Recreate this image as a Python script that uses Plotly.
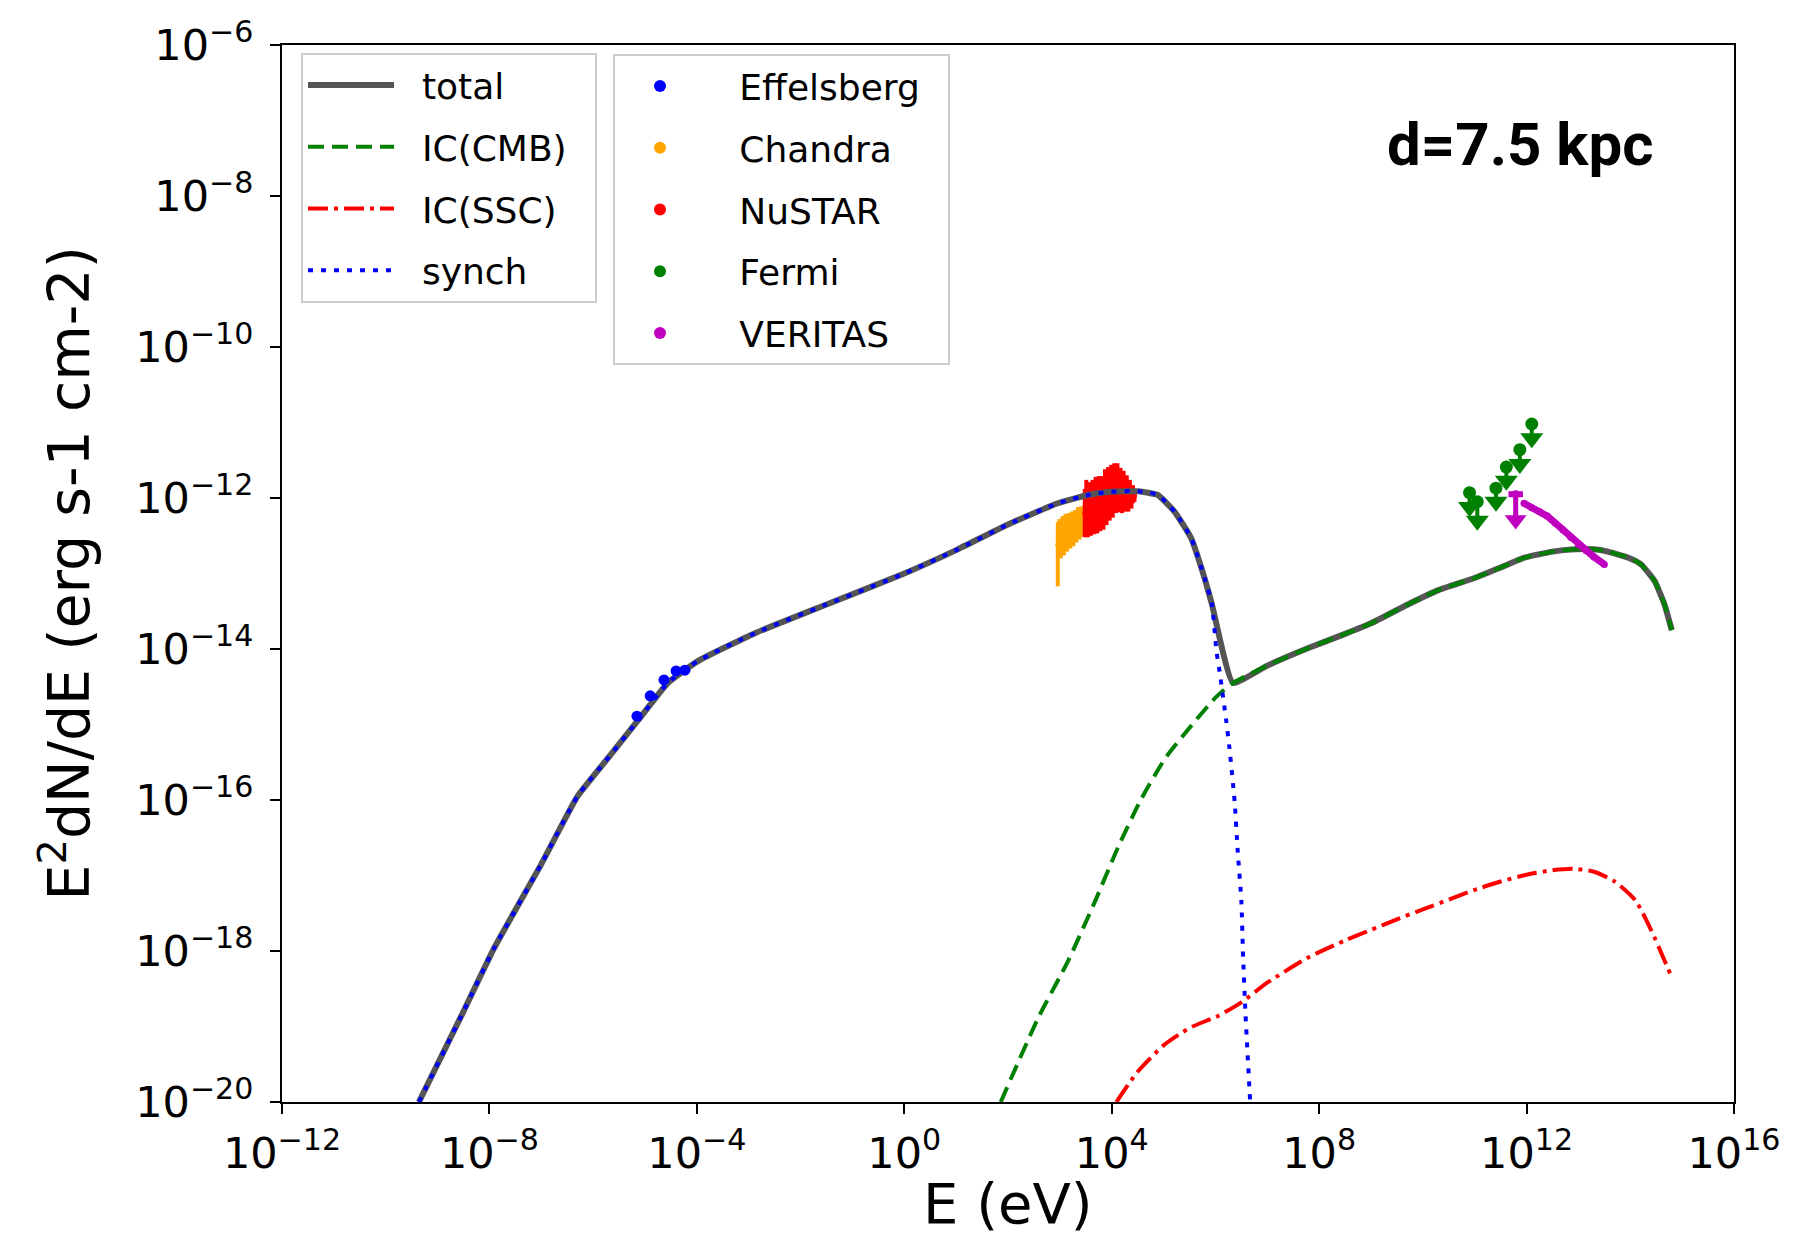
import numpy as np
import plotly.graph_objects as go

# ---------------- data (log10 E [eV], log10 E^2 dN/dE [erg s-1 cm-2]) ----------------
total_logE = [-9.36, -8.5, -7.9, -7.0, -6.3, -5.66, -5.14, -4.56, -3.98, -2.88, -1.5, 0.0, 1.03,
              2.0, 2.96, 3.54, 3.93, 4.51, 4.89, 5.21, 5.53, 5.79, 5.93, 6.34, 7.0, 7.78, 8.5,
              9.0, 9.71, 10.3, 11.0, 11.5, 11.96, 12.5, 12.93, 13.3, 13.57, 14.0, 14.21, 14.47,
              14.66, 14.8]
total_logF = [-20.0, -18.8, -17.95, -16.85, -15.95, -15.40, -14.95, -14.45, -14.16, -13.79, -13.41,
              -13.0, -12.68, -12.35, -12.07, -11.96, -11.92, -11.91, -11.96, -12.18, -12.53, -13.06,
              -13.40, -14.45, -14.22, -13.99, -13.80, -13.66, -13.41, -13.22, -13.06, -12.92, -12.79,
              -12.71, -12.68, -12.68, -12.71, -12.80, -12.88, -13.10, -13.41, -13.75]

synch_logE = [-9.36, -8.5, -7.9, -7.0, -6.3, -5.66, -5.14, -4.56, -3.98, -2.88, -1.5, 0.0, 1.03,
              2.0, 2.96, 3.54, 3.93, 4.51, 4.89, 5.21, 5.53, 5.79, 5.93, 6.02, 6.07, 6.21, 6.27,
              6.37, 6.43, 6.50, 6.53, 6.58, 6.67]
synch_logF = [-20.0, -18.8, -17.95, -16.85, -15.95, -15.40, -14.95, -14.45, -14.16, -13.79, -13.41,
              -13.0, -12.68, -12.35, -12.07, -11.96, -11.92, -11.91, -11.96, -12.18, -12.53, -13.06,
              -13.40, -14.03, -14.25, -14.96, -15.31, -16.02, -16.68, -17.34, -18.0, -18.84, -20.0]

ic_cmb_logE = [1.86, 2.58, 3.16, 3.68, 4.12, 4.56, 5.03, 5.47, 6.02, 6.34, 7.0, 7.78, 8.5, 9.0,
               9.71, 10.3, 11.0, 11.5, 11.96, 12.5, 12.93, 13.3, 13.57, 14.0, 14.21, 14.47, 14.66, 14.8]
ic_cmb_logF = [-20.0, -18.89, -18.13, -17.34, -16.63, -16.0, -15.45, -15.07, -14.63, -14.45, -14.22,
               -13.99, -13.80, -13.66, -13.41, -13.22, -13.06, -12.92, -12.79, -12.71, -12.68, -12.68,
               -12.71, -12.80, -12.88, -13.10, -13.41, -13.75]

ic_ssc_logE = [4.09, 4.5, 5.0, 5.5, 6.05, 6.5, 7.0, 7.78, 8.5, 9.0, 9.5, 10.0, 10.5, 11.0, 11.5,
               12.0, 12.5, 12.9, 13.3, 13.7, 14.1, 14.4, 14.8]
ic_ssc_logF = [-20.0, -19.6, -19.25, -19.02, -18.86, -18.68, -18.42, -18.09, -17.86, -17.72, -17.58,
               -17.45, -17.32, -17.19, -17.08, -16.99, -16.93, -16.91, -16.95, -17.08, -17.33, -17.72,
               -18.35]

effelsberg_logE = [-5.155, -4.90, -4.634, -4.40, -4.23]
effelsberg_logF = [-14.89, -14.62, -14.41, -14.29, -14.28]

chandra_logE = [2.96, 2.99, 3.02, 3.05, 3.08, 3.11, 3.14, 3.17, 3.20, 3.23, 3.26, 3.29, 3.32, 3.35,
                3.38, 3.41, 3.44, 3.47, 3.50]
chandra_logF = [-12.62, -12.50, -12.55, -12.46, -12.52, -12.42, -12.48, -12.40, -12.45, -12.37,
                -12.42, -12.34, -12.38, -12.30, -12.35, -12.28, -12.31, -12.25, -12.27]
chandra_err_lo = [0.55, 0.28, 0.25, 0.27, 0.24, 0.26, 0.23, 0.25, 0.22, 0.24, 0.22, 0.23, 0.21,
                  0.22, 0.20, 0.21, 0.20, 0.19, 0.20]
chandra_err_hi = [0.30, 0.22, 0.20, 0.22, 0.20, 0.21, 0.19, 0.20, 0.18, 0.19, 0.18, 0.18, 0.17,
                  0.18, 0.16, 0.17, 0.16, 0.15, 0.16]

nustar_logE = [3.48, 3.51, 3.54, 3.57, 3.60, 3.63, 3.66, 3.69, 3.72, 3.75, 3.78, 3.81, 3.84, 3.87,
               3.90, 3.93, 3.96, 3.99, 4.02, 4.05, 4.08, 4.11, 4.14, 4.17, 4.20, 4.23, 4.26, 4.29,
               4.32, 4.35, 4.38, 4.41, 4.44]
nustar_logF = [-12.20, -12.12, -12.22, -12.14, -12.20, -12.10, -12.18, -12.08, -12.16, -12.06,
               -12.14, -12.04, -12.10, -11.98, -12.06, -11.94, -12.00, -11.90, -11.96, -11.86,
               -11.92, -11.84, -11.92, -11.88, -11.95, -11.90, -11.96, -11.92, -11.98, -11.94,
               -11.99, -11.95, -11.97]
nustar_err = [0.32, 0.36, 0.30, 0.35, 0.30, 0.34, 0.30, 0.36, 0.31, 0.35, 0.30, 0.33, 0.32, 0.36,
              0.30, 0.35, 0.30, 0.34, 0.30, 0.32, 0.28, 0.30, 0.27, 0.28, 0.25, 0.26, 0.22, 0.22,
              0.20, 0.18, 0.15, 0.12, 0.08]

fermi_logE = [10.90, 11.05, 11.41, 11.61, 11.87, 12.10]
fermi_logF = [-11.93, -12.05, -11.87, -11.59, -11.36, -11.02]
fermi_ul_dex = [0.19, 0.25, 0.18, 0.18, 0.19, 0.19]

veritas_ul_logE = [11.79]
veritas_ul_logF = [-11.95]
veritas_ul_dex = [0.34]
veritas_ul_xdex = [0.14]
veritas_logE = [11.95, 12.1, 12.25, 12.4, 12.55, 12.7, 12.85, 13.0, 13.15, 13.3, 13.5]
veritas_logF = [-12.07, -12.13, -12.18, -12.24, -12.33, -12.42, -12.52, -12.62, -12.70, -12.78, -12.88]

x_tick_exps = [-12, -8, -4, 0, 4, 8, 12, 16]
y_tick_exps = [-20, -18, -16, -14, -12, -10, -8, -6]


def p(a):
    return 10.0 ** np.asarray(a, dtype=float)


def tick_text(exps):
    return [f"10<sup>{'\u2212' if e < 0 else ''}{abs(e)}</sup>" for e in exps]


C_TOTAL = "#555555"
C_GREEN = "#008000"
C_RED = "#FF0000"
C_BLUE = "#0000FF"
C_ORANGE = "#FFA500"
C_MAG = "#BF00BF"
FONT = "DejaVu Sans"
NB = "\u00a0"

fig = go.Figure()

# ---- data drawn below the model curves ----
cF = p(chandra_logF)
fig.add_trace(go.Scatter(
    x=p(chandra_logE), y=cF, mode="markers", name=NB * 3 + "Chandra", legend="legend2", legendrank=2,
    marker=dict(color=C_ORANGE, size=5),
    error_y=dict(type="data", symmetric=False,
                 array=p(np.add(chandra_logF, chandra_err_hi)) - cF,
                 arrayminus=cF - p(np.subtract(chandra_logF, chandra_err_lo)),
                 color=C_ORANGE, thickness=4, width=0)))

nF = p(nustar_logF)
fig.add_trace(go.Scatter(
    x=p(nustar_logE), y=nF, mode="markers", name=NB * 3 + "NuSTAR", legend="legend2", legendrank=3,
    marker=dict(color=C_RED, size=5),
    error_y=dict(type="data", symmetric=False,
                 array=p(np.add(nustar_logF, nustar_err)) - nF,
                 arrayminus=nF - p(np.subtract(nustar_logF, nustar_err)),
                 color=C_RED, thickness=4, width=0)))

# ---- model curves ----
SM = 0.6
fig.add_trace(go.Scatter(x=p(total_logE), y=p(total_logF), mode="lines", name=NB * 2 + "total",
                         legendrank=1,
                         line=dict(color=C_TOTAL, width=6, shape="spline", smoothing=0.4)))
fig.add_trace(go.Scatter(x=p(ic_cmb_logE), y=p(ic_cmb_logF), mode="lines",
                         name=NB * 2 + "IC(CMB)" + NB * 2, legendrank=2,
                         line=dict(color=C_GREEN, width=4, dash="16px,8px", shape="spline",
                                   smoothing=SM)))
fig.add_trace(go.Scatter(x=p(ic_ssc_logE), y=p(ic_ssc_logF), mode="lines", name=NB * 2 + "IC(SSC)",
                         legendrank=3,
                         line=dict(color=C_RED, width=4, dash="20px,6px,4px,6px", shape="spline",
                                   smoothing=SM)))
fig.add_trace(go.Scatter(x=p(synch_logE), y=p(synch_logF), mode="lines", name=NB * 2 + "synch",
                         legendrank=4,
                         line=dict(color=C_BLUE, width=4, dash="5px,8px", shape="spline",
                                   smoothing=SM)))

# ---- data drawn above ----
fig.add_trace(go.Scatter(x=p(effelsberg_logE), y=p(effelsberg_logF), mode="markers",
                         name=NB * 3 + "Effelsberg" + NB * 2, legend="legend2", legendrank=1,
                         marker=dict(color=C_BLUE, size=11)))

fF = p(fermi_logF)
fF_lo = p(np.subtract(fermi_logF, fermi_ul_dex))
fig.add_trace(go.Scatter(
    x=p(fermi_logE), y=fF, mode="markers", name=NB * 3 + "Fermi", legend="legend2", legendrank=4,
    marker=dict(color=C_GREEN, size=13),
    error_y=dict(type="data", symmetric=False, array=np.zeros(len(fermi_logE)),
                 arrayminus=fF - fF_lo, color=C_GREEN, thickness=4, width=0)))
fig.add_trace(go.Scatter(x=p(fermi_logE), y=fF_lo, mode="markers", showlegend=False,
                         hoverinfo="skip",
                         marker=dict(color=C_GREEN, size=20, symbol="triangle-down")))

fig.add_trace(go.Scatter(x=p(veritas_logE), y=p(veritas_logF), mode="lines+markers",
                         showlegend=False, line=dict(color=C_MAG, width=7),
                         marker=dict(color=C_MAG, size=7)))
vF = p(veritas_ul_logF)
vF_lo = p(np.subtract(veritas_ul_logF, veritas_ul_dex))
vE = p(veritas_ul_logE)
fig.add_trace(go.Scatter(
    x=vE, y=vF, mode="markers", name=NB * 3 + "VERITAS", legend="legend2", legendrank=5,
    marker=dict(color=C_MAG, size=8),
    error_y=dict(type="data", symmetric=False, array=[0.0], arrayminus=vF - vF_lo,
                 color=C_MAG, thickness=5, width=0),
    error_x=dict(type="data", symmetric=False,
                 array=p(np.add(veritas_ul_logE, veritas_ul_xdex)) - vE,
                 arrayminus=vE - p(np.subtract(veritas_ul_logE, veritas_ul_xdex)),
                 color=C_MAG, thickness=6, width=0)))
fig.add_trace(go.Scatter(x=vE, y=vF_lo, mode="markers", showlegend=False, hoverinfo="skip",
                         marker=dict(color=C_MAG, size=19, symbol="triangle-down")))

W, H = 1814, 1237
L, R, T, B = 274, 88, 37, 143
ph = H - T - B
pw = W - L - R

axis_common = dict(type="log", showgrid=False, zeroline=False, showline=True, linecolor="black",
                   linewidth=2, mirror=True, ticks="outside", ticklen=10, tickwidth=2,
                   tickcolor="black",
                   tickfont=dict(family=FONT, size=43, color="black"))

legend_common = dict(xanchor="left", yanchor="top", bgcolor="rgba(255,255,255,0.85)",
                     bordercolor="#cccccc", borderwidth=2,
                     font=dict(family=FONT, size=36, color="black"), tracegroupgap=12,
                     traceorder="grouped")

fig.update_layout(
    width=W, height=H, margin=dict(l=L, r=R, t=T, b=B, autoexpand=False),
    paper_bgcolor="white", plot_bgcolor="white",
    xaxis=dict(axis_common, range=[-12, 16], tickvals=list(p(x_tick_exps)),
               ticktext=tick_text(x_tick_exps), ticklabelstandoff=2),
    yaxis=dict(axis_common, range=[-20, -6], tickvals=list(p(y_tick_exps)),
               ticktext=tick_text(y_tick_exps), ticklabelstandoff=8),
    legend=dict(legend_common, x=(293 - L) / pw, y=(H - B - 45) / ph, itemwidth=86),
    legend2=dict(legend_common, x=(605 - L) / pw, y=(H - B - 46) / ph, itemwidth=80,
                 itemsizing="constant"),
    showlegend=True,
)

# each trace its own legend group so tracegroupgap spaces the entries
for i, tr in enumerate(fig.data):
    tr.legendgroup = f"g{i}"

fig.add_annotation(text="E (eV)", xref="paper", yref="paper", x=0.5, y=(H - B - 1195) / ph,
                   xanchor="center", yanchor="middle", showarrow=False,
                   font=dict(family=FONT, size=56, color="black"))
fig.add_annotation(text="E<sup>2</sup>dN/dE (erg s-1 cm-2)", xref="paper", yref="paper",
                   x=(57 - L) / pw, y=0.5, xanchor="center", yanchor="middle", textangle=-90,
                   showarrow=False, font=dict(family=FONT, size=57, color="black"))
fig.add_annotation(text="<b>d=7.5 kpc</b>", xref="paper", yref="paper",
                   x=(1512 - L) / pw, y=(H - B - 137) / ph, xanchor="center", yanchor="middle",
                   showarrow=False,
                   font=dict(family="Roboto, Liberation Sans, sans-serif", size=60, color="black"))

fig.write_html("out.html")
